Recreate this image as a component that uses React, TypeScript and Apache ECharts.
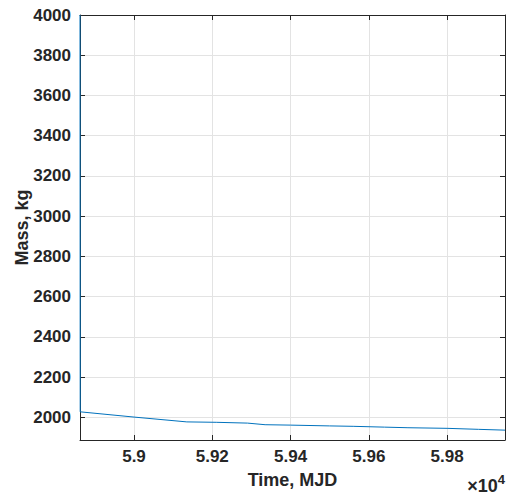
import React, { useEffect, useRef } from "react";
import * as echarts from "echarts";

const timeMJD = [58862, 58862.5, 59000, 59135, 59210, 59290, 59335, 59400, 59500, 59560, 59640, 59700, 59800, 59880, 59948];
const massKg = [4000, 2027, 2001, 1977, 1975, 1971, 1963, 1961, 1957, 1955, 1951, 1948, 1945, 1940, 1936];
const xTicks = [59000, 59200, 59400, 59600, 59800];
const yTicks = [2000, 2200, 2400, 2600, 2800, 3000, 3200, 3400, 3600, 3800, 4000];
const xMin = 58862;
const xMax = 59948;
const yMin = 1887;
const yMax = 4000;

const FONT = "Liberation Sans, Arial, Helvetica, sans-serif";
const AX = "#262626";
const GRID = "#e3e3e3";

export default function App() {
  const ref = useRef<HTMLDivElement>(null);
  useEffect(() => {
    if (!ref.current) return;
    const chart = echarts.init(ref.current, undefined, { renderer: "svg" });
    const labelStyle = { color: AX, fontFamily: FONT, fontWeight: "bold" as const, fontSize: 17 };
    chart.setOption({
      animation: false,
      backgroundColor: "#ffffff",
      grid: { left: 80, right: 6, top: 15, bottom: 58, containLabel: false, outerBoundsMode: "none" },
      xAxis: [
        {
          type: "value",
          min: xMin,
          max: xMax,
          position: "bottom",
          name: "Time, MJD",
          nameLocation: "middle",
          nameGap: 31,
          nameMoveOverlap: false,
          nameTextStyle: { color: AX, fontFamily: FONT, fontWeight: "bold", fontSize: 18 },
          axisLine: { show: true, onZero: false, lineStyle: { color: AX, width: 1 } },
          axisTick: { show: true, inside: true, length: 5, customValues: xTicks, lineStyle: { color: AX } },
          axisLabel: {
            ...labelStyle,
            margin: 8,
            customValues: xTicks,
            formatter: (v: number) => String(+(v / 1e4).toFixed(2)),
          },
          splitLine: { show: true, lineStyle: { color: GRID, width: 1 } },
        },
        {
          type: "value",
          min: xMin,
          max: xMax,
          position: "top",
          axisLine: { show: true, onZero: false, lineStyle: { color: AX, width: 1 } },
          axisTick: { show: true, inside: true, length: 5, customValues: xTicks, lineStyle: { color: AX } },
          axisLabel: { show: false },
          splitLine: { show: false },
        },
      ],
      yAxis: [
        {
          type: "value",
          min: yMin,
          max: yMax,
          position: "left",
          name: "Mass, kg",
          nameLocation: "middle",
          nameGap: 49,
          nameMoveOverlap: false,
          nameTextStyle: { color: AX, fontFamily: FONT, fontWeight: "bold", fontSize: 18 },
          axisLine: { show: true, onZero: false, lineStyle: { color: AX, width: 1 } },
          axisTick: { show: true, inside: true, length: 5, customValues: yTicks, lineStyle: { color: AX } },
          axisLabel: { ...labelStyle, margin: 9, customValues: yTicks, formatter: (v: number) => String(v) },
          splitLine: { show: true, lineStyle: { color: GRID, width: 1 } },
        },
        {
          type: "value",
          min: yMin,
          max: yMax,
          position: "right",
          axisLine: { show: true, onZero: false, lineStyle: { color: AX, width: 1 } },
          axisTick: { show: true, inside: true, length: 5, customValues: yTicks, lineStyle: { color: AX } },
          axisLabel: { show: false },
          splitLine: { show: false },
        },
      ],
      graphic: [
        {
          type: "text",
          right: 6,
          top: 473,
          style: {
            text: "×10{sup|4}",
            fill: AX,
            font: `bold 18px ${FONT}`,
            rich: {
              sup: { fontSize: 13, fontWeight: "bold", fontFamily: FONT, fill: AX, verticalAlign: "top", padding: [0, 0, 12, 0] },
            },
          },
        },
      ],
      series: [
        {
          type: "line",
          xAxisIndex: 0,
          yAxisIndex: 0,
          data: timeMJD.map((t, i) => [t, massKg[i]]),
          showSymbol: false,
          symbol: "none",
          lineStyle: { color: "#0072BD", width: 1 },
          clip: true,
        },
      ],
    });
    return () => chart.dispose();
  }, []);
  return <div ref={ref} style={{ position: "absolute", left: 0, top: 0, width: 511, height: 498 }} />;
}
